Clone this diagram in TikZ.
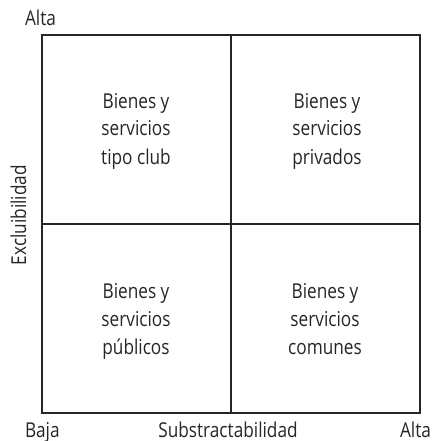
\documentclass[tikz,border=0pt]{standalone}
\usepackage{fontspec}
\setmainfont{Open Sans}[FakeStretch=0.84]
\begin{document}
\begin{tikzpicture}[x=1pt,y=-1pt,
  frame/.style={draw=black!85,line width=1.3pt},
  lbl/.style={inner sep=0pt,outer sep=0pt,text=black!85,font=\fontsize{20.5}{28}\selectfont},
  quad/.style={lbl,align=center,anchor=base}]
\useasboundingbox (0,0) rectangle (437,441);
\draw[frame] (42,35) rectangle (420,413);
\coordinate (vt) at (231,35);
\coordinate (vb) at (231,413);
\coordinate (hl) at (42,224);
\coordinate (hr) at (420,224);
\draw[frame] (vt) -- (vb);
\draw[frame] (hl) -- (hr);
\node[quad] (tl) at (136,164) {Bienes y\\servicios\\tipo club};
\node[quad] (tr) at (327,164) {Bienes y\\servicios\\privados};
\node[quad] (bl) at (136,354) {Bienes y\\servicios\\públicos};
\node[quad] (br) at (325,354) {Bienes y\\servicios\\comunes};
\node[lbl,anchor=base west] (alta1) at (25,26) {Alta};
\node[lbl,anchor=base west] (baja) at (25,437) {Baja};
\node[lbl,anchor=base] (sub) at (228,437) {Substractabilidad};
\node[lbl,anchor=base east] (alta2) at (431,437) {Alta};
\node[lbl,anchor=base,rotate=90] (exc) at (26,215) {Excluibilidad};
\end{tikzpicture}
\end{document}
